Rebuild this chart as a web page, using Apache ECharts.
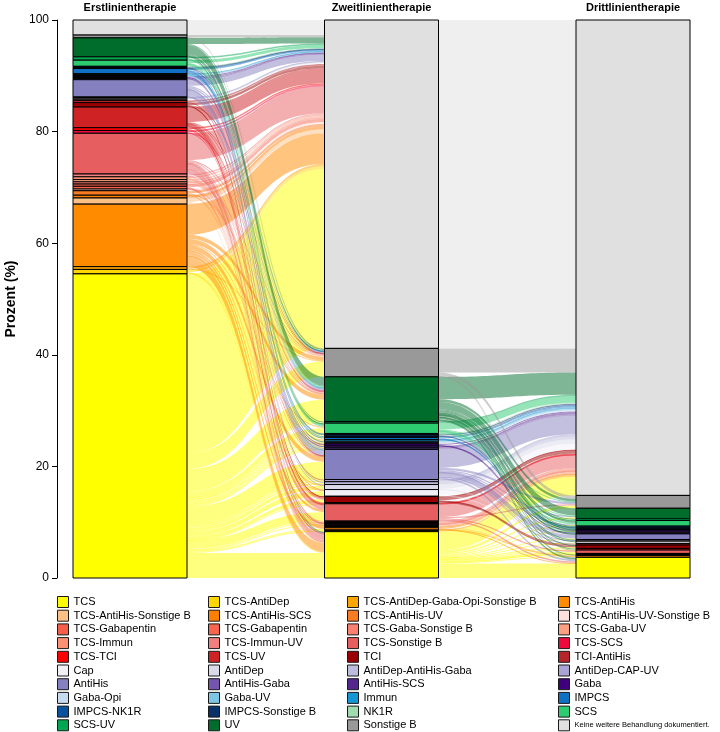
<!DOCTYPE html>
<html>
<head>
<meta charset="utf-8">
<script src="https://cdn.jsdelivr.net/npm/echarts@6/dist/echarts.min.js"></script>
<style>
  html, body { margin: 0; padding: 0; background: #fff; }
  #chart { width: 720px; height: 732px; }
</style>
</head>
<body>
<div id="chart"></div>
<script>
const NONE = 'Keine weitere Behandlung dokumentiert.';
const GABA2 = 'TCS-Gabapentin\u200b'; // second legend entry with the same label

// legend / stacking order (bottom of each column = first entry)
const categories = [
  'TCS', 'TCS-AntiDep', 'TCS-AntiDep-Gaba-Opi-Sonstige B', 'TCS-AntiHis',
  'TCS-AntiHis-Sonstige B', 'TCS-AntiHis-SCS', 'TCS-AntiHis-UV', 'TCS-AntiHis-UV-Sonstige B',
  'TCS-Gabapentin', GABA2, 'TCS-Gaba-Sonstige B', 'TCS-Gaba-UV',
  'TCS-Immun', 'TCS-Immun-UV', 'TCS-Sonstige B', 'TCS-SCS',
  'TCS-TCI', 'TCS-UV', 'TCI', 'TCI-AntiHis',
  'Cap', 'AntiDep', 'AntiDep-AntiHis-Gaba', 'AntiDep-CAP-UV',
  'AntiHis', 'AntiHis-Gaba', 'AntiHis-SCS', 'Gaba',
  'Gaba-Opi', 'Gaba-UV', 'Immun', 'IMPCS',
  'IMPCS-NK1R', 'IMPCS-Sonstige B', 'NK1R', 'SCS',
  'SCS-UV', 'UV', 'Sonstige B', NONE
];

const palette = [
  '#ffff00', '#ffd700', '#ffa500', '#ff8c00',
  '#fdc086', '#ff7f00', '#f97b22', '#fde0dd',
  '#f65e4a', '#f8654f', '#fa8072', '#fca082',
  '#fc9272', '#f08080', '#e75e60', '#ee0a3c',
  '#ff0000', '#cf2224', '#9b0000', '#b5252a',
  '#f2f0f7', '#dadaeb', '#bcbddc', '#a9a4d4',
  '#8580c0', '#7456b0', '#54278f', '#3f007d',
  '#c6dbef', '#7ec4e4', '#1696d2', '#1071c4',
  '#08519c', '#08306b', '#a1dcb0', '#2ecc71',
  '#00a651', '#006d2c', '#999999', '#e0e0e0'
];

const columnTitles = ['Erstlinientherapie', 'Zweitlinientherapie', 'Drittlinientherapie'];

// percent of patients moving from first-line to second-line therapy
const flowsFirstToSecond = [
  ['TCS', 'TCS', 4.5], ['TCS', 'TCS-AntiDep', 0.2], ['TCS', 'TCS-AntiHis', 0.2],
  ['TCS', 'TCS-Gabapentin', 0.15], ['TCS', 'TCS-Immun', 0.15], ['TCS', 'TCS-Sonstige B', 1.6],
  ['TCS', 'TCS-SCS', 0.05], ['TCS', 'TCI', 0.6], ['TCS', 'Cap', 0.9], ['TCS', 'AntiDep', 0.7],
  ['TCS', 'AntiDep-AntiHis-Gaba', 0.3], ['TCS', 'AntiDep-CAP-UV', 0.3], ['TCS', 'AntiHis', 3.2],
  ['TCS', 'AntiHis-Gaba', 0.15], ['TCS', 'AntiHis-SCS', 0.2], ['TCS', 'Gaba', 0.2],
  ['TCS', 'Gaba-Opi', 0.15], ['TCS', 'Gaba-UV', 0.15], ['TCS', 'Immun', 0.2], ['TCS', 'IMPCS', 0.2],
  ['TCS', 'IMPCS-NK1R', 0.1], ['TCS', 'IMPCS-Sonstige B', 0.2], ['TCS', 'NK1R', 0.1],
  ['TCS', 'SCS', 1.0], ['TCS', 'SCS-UV', 0.15], ['TCS', 'UV', 3.9], ['TCS', 'Sonstige B', 2.8],
  ['TCS', NONE, 32.15],
  ['TCS-AntiDep', 'TCS', 0.2], ['TCS-AntiDep', 'TCS-AntiDep-Gaba-Opi-Sonstige B', 0.1], ['TCS-AntiDep', NONE, 0.5],
  ['TCS-AntiDep-Gaba-Opi-Sonstige B', 'Sonstige B', 0.1], ['TCS-AntiDep-Gaba-Opi-Sonstige B', NONE, 0.4],
  ['TCS-AntiHis', 'TCS', 1.6], ['TCS-AntiHis', 'TCS-AntiHis', 0.2], ['TCS-AntiHis', 'TCS-AntiHis-Sonstige B', 0.15],
  ['TCS-AntiHis', 'TCS-AntiHis-SCS', 0.1], ['TCS-AntiHis', 'TCS-AntiHis-UV', 0.15], ['TCS-AntiHis', 'TCS-Sonstige B', 0.5],
  ['TCS-AntiHis', 'Cap', 0.2], ['TCS-AntiHis', 'AntiDep', 0.1], ['TCS-AntiHis', 'AntiHis', 0.9],
  ['TCS-AntiHis', 'SCS', 0.2], ['TCS-AntiHis', 'UV', 0.9], ['TCS-AntiHis', 'Sonstige B', 0.7], ['TCS-AntiHis', NONE, 5.5],
  ['TCS-AntiHis-Sonstige B', 'TCS', 0.2], ['TCS-AntiHis-Sonstige B', 'Sonstige B', 0.2], ['TCS-AntiHis-Sonstige B', NONE, 0.7],
  ['TCS-AntiHis-SCS', NONE, 0.5],
  ['TCS-AntiHis-UV', 'TCS-AntiHis-UV-Sonstige B', 0.1], ['TCS-AntiHis-UV', 'UV', 0.2], ['TCS-AntiHis-UV', NONE, 0.5],
  ['TCS-AntiHis-UV-Sonstige B', NONE, 0.3],
  ['TCS-Gabapentin', 'TCS', 0.1], ['TCS-Gabapentin', 'TCS-Gaba-Sonstige B', 0.1], ['TCS-Gabapentin', 'Gaba', 0.1],
  ['TCS-Gabapentin', NONE, 0.2],
  [GABA2, NONE, 0.4],
  ['TCS-Gaba-Sonstige B', 'Sonstige B', 0.1], ['TCS-Gaba-Sonstige B', NONE, 0.3],
  ['TCS-Gaba-UV', 'TCS', 0.1], ['TCS-Gaba-UV', 'UV', 0.1], ['TCS-Gaba-UV', NONE, 0.2],
  ['TCS-Immun', 'TCS', 0.1], ['TCS-Immun', 'TCS-Immun-UV', 0.1], ['TCS-Immun', 'Immun', 0.1], ['TCS-Immun', NONE, 0.2],
  ['TCS-Immun-UV', 'TCS', 0.1], ['TCS-Immun-UV', 'UV', 0.1], ['TCS-Immun-UV', NONE, 0.3],
  ['TCS-Sonstige B', 'TCS', 0.9], ['TCS-Sonstige B', GABA2, 0.1], ['TCS-Sonstige B', 'TCS-Sonstige B', 0.8],
  ['TCS-Sonstige B', 'TCI', 0.1], ['TCS-Sonstige B', 'Cap', 0.1], ['TCS-Sonstige B', 'AntiHis', 0.1],
  ['TCS-Sonstige B', 'UV', 0.2], ['TCS-Sonstige B', 'Sonstige B', 0.2], ['TCS-Sonstige B', NONE, 4.8],
  ['TCS-SCS', 'TCS-Sonstige B', 0.1], ['TCS-SCS', 'UV', 0.1], ['TCS-SCS', NONE, 0.3],
  ['TCS-TCI', 'TCS-TCI', 0.05], ['TCS-TCI', 'TCI', 0.2], ['TCS-TCI', NONE, 0.25],
  ['TCS-UV', 'TCS', 0.3], ['TCS-UV', 'TCS-Gaba-UV', 0.1], ['TCS-UV', 'TCS-Sonstige B', 0.1], ['TCS-UV', 'TCS-UV', 0.1],
  ['TCS-UV', 'AntiDep-CAP-UV', 0.1], ['TCS-UV', 'AntiHis', 0.1], ['TCS-UV', 'UV', 0.1], ['TCS-UV', 'Sonstige B', 0.1],
  ['TCS-UV', NONE, 2.7],
  ['TCI', 'TCI', 0.2], ['TCI', 'TCI-AntiHis', 0.05], ['TCI', 'Sonstige B', 0.1], ['TCI', NONE, 0.45],
  ['TCI-AntiHis', 'AntiHis', 0.1], ['TCI-AntiHis', NONE, 0.3],
  ['Cap', NONE, 0.2],
  ['AntiDep', NONE, 0.2],
  ['AntiDep-AntiHis-Gaba', NONE, 0.1],
  ['AntiDep-CAP-UV', 'UV', 0.05], ['AntiDep-CAP-UV', NONE, 0.05],
  ['AntiHis', 'TCS', 0.1], ['AntiHis', 'AntiDep', 0.1], ['AntiHis', 'AntiDep-AntiHis-Gaba', 0.2], ['AntiHis', 'AntiHis', 0.9],
  ['AntiHis', 'AntiHis-Gaba', 0.1], ['AntiHis', 'AntiHis-SCS', 0.1], ['AntiHis', 'UV', 0.3], ['AntiHis', 'Sonstige B', 0.2],
  ['AntiHis', NONE, 1.1],
  ['AntiHis-Gaba', NONE, 0.2],
  ['AntiHis-SCS', 'AntiHis-SCS', 0.05], ['AntiHis-SCS', NONE, 0.15],
  ['Gaba', 'Gaba', 0.1], ['Gaba', NONE, 0.1],
  ['Gaba-Opi', 'Gaba-Opi', 0.05], ['Gaba-Opi', NONE, 0.1],
  ['Gaba-UV', 'UV', 0.05], ['Gaba-UV', 'Sonstige B', 0.05], ['Gaba-UV', NONE, 0.05],
  ['Immun', 'UV', 0.1], ['Immun', NONE, 0.1],
  ['IMPCS', 'AntiHis', 0.1], ['IMPCS', 'IMPCS', 0.2], ['IMPCS', 'IMPCS-NK1R', 0.1], ['IMPCS', 'IMPCS-Sonstige B', 0.15],
  ['IMPCS', 'Sonstige B', 0.1], ['IMPCS', NONE, 0.25],
  ['IMPCS-NK1R', 'NK1R', 0.05], ['IMPCS-NK1R', NONE, 0.1],
  ['IMPCS-Sonstige B', 'Sonstige B', 0.05], ['IMPCS-Sonstige B', NONE, 0.1],
  ['NK1R', NONE, 0.1],
  ['SCS', 'SCS', 0.4], ['SCS', 'UV', 0.1], ['SCS', 'Sonstige B', 0.1], ['SCS', NONE, 0.5],
  ['SCS-UV', 'SCS', 0.1], ['SCS-UV', 'UV', 0.2], ['SCS-UV', NONE, 0.3],
  ['UV', 'TCS', 0.1], ['UV', 'Gaba-UV', 0.1], ['UV', 'SCS', 0.15], ['UV', 'SCS-UV', 0.15], ['UV', 'UV', 1.6],
  ['UV', 'Sonstige B', 0.2], ['UV', NONE, 1.1],
  ['Sonstige B', 'Sonstige B', 0.1], ['Sonstige B', NONE, 0.4],
  [NONE, NONE, 2.7]
];

// percent of patients moving from second-line to third-line therapy
const flowsSecondToThird = [
  ['TCS', 'TCS', 2.6], ['TCS', 'TCS-AntiHis', 0.2], ['TCS', 'TCS-Gabapentin', 0.1], ['TCS', 'TCS-Immun', 0.1],
  ['TCS', 'TCS-Sonstige B', 0.3], ['TCS', 'TCS-UV', 0.1], ['TCS', 'TCI', 0.2], ['TCS', 'Cap', 0.1],
  ['TCS', 'AntiHis', 0.2], ['TCS', 'Gaba', 0.1], ['TCS', 'SCS', 0.2], ['TCS', 'UV', 0.3],
  ['TCS', 'Sonstige B', 0.5], ['TCS', NONE, 3.3],
  ['TCS-AntiDep', NONE, 0.2],
  ['TCS-AntiDep-Gaba-Opi-Sonstige B', NONE, 0.1],
  ['TCS-AntiHis', 'TCS', 0.1], ['TCS-AntiHis', 'TCS-AntiHis', 0.1], ['TCS-AntiHis', NONE, 0.2],
  ['TCS-AntiHis-Sonstige B', 'TCS-AntiHis-Sonstige B', 0.1], ['TCS-AntiHis-Sonstige B', NONE, 0.05],
  ['TCS-AntiHis-SCS', NONE, 0.1],
  ['TCS-AntiHis-UV', NONE, 0.15],
  ['TCS-AntiHis-UV-Sonstige B', NONE, 0.1],
  ['TCS-Gabapentin', NONE, 0.15],
  [GABA2, NONE, 0.1],
  ['TCS-Gaba-Sonstige B', NONE, 0.1],
  ['TCS-Gaba-UV', NONE, 0.1],
  ['TCS-Immun', NONE, 0.15],
  ['TCS-Immun-UV', NONE, 0.1],
  ['TCS-Sonstige B', 'TCS', 0.3], ['TCS-Sonstige B', 'TCS-Sonstige B', 0.2], ['TCS-Sonstige B', 'Sonstige B', 0.2],
  ['TCS-Sonstige B', NONE, 2.4],
  ['TCS-SCS', NONE, 0.05],
  ['TCS-TCI', NONE, 0.05],
  ['TCS-UV', NONE, 0.1],
  ['TCI', 'TCI', 0.3], ['TCI', 'TCI-AntiHis', 0.1], ['TCI', NONE, 0.7],
  ['TCI-AntiHis', NONE, 0.05],
  ['Cap', 'Cap', 0.2], ['Cap', NONE, 1.0],
  ['AntiDep', 'AntiDep', 0.1], ['AntiDep', NONE, 0.8],
  ['AntiDep-AntiHis-Gaba', NONE, 0.5],
  ['AntiDep-CAP-UV', NONE, 0.4],
  ['AntiHis', 'TCS', 0.3], ['AntiHis', 'TCI-AntiHis', 0.2], ['AntiHis', 'AntiDep', 0.1], ['AntiHis', 'AntiHis', 0.6],
  ['AntiHis', 'AntiHis-Gaba', 0.1], ['AntiHis', 'AntiHis-SCS', 0.1], ['AntiHis', 'SCS', 0.1], ['AntiHis', 'UV', 0.2],
  ['AntiHis', 'Sonstige B', 0.4], ['AntiHis', NONE, 3.3],
  ['AntiHis-Gaba', NONE, 0.25],
  ['AntiHis-SCS', NONE, 0.35],
  ['Gaba', 'AntiHis-Gaba', 0.1], ['Gaba', 'Gaba', 0.1], ['Gaba', NONE, 0.2],
  ['Gaba-Opi', NONE, 0.2],
  ['Gaba-UV', NONE, 0.25],
  ['Immun', NONE, 0.3],
  ['IMPCS', 'IMPCS', 0.1], ['IMPCS', 'IMPCS-Sonstige B', 0.1], ['IMPCS', NONE, 0.2],
  ['IMPCS-NK1R', NONE, 0.2],
  ['IMPCS-Sonstige B', 'IMPCS-Sonstige B', 0.1], ['IMPCS-Sonstige B', NONE, 0.25],
  ['NK1R', NONE, 0.15],
  ['SCS', 'AntiHis-SCS', 0.1], ['SCS', 'SCS', 0.3], ['SCS', 'SCS-UV', 0.1], ['SCS', 'UV', 0.1],
  ['SCS', 'Sonstige B', 0.1], ['SCS', NONE, 1.15],
  ['SCS-UV', NONE, 0.3],
  ['UV', 'TCS', 0.3], ['UV', 'TCS-AntiHis-UV', 0.1], ['UV', 'TCS-UV', 0.2], ['UV', 'TCI', 0.1], ['UV', 'Cap', 0.1],
  ['UV', 'AntiDep-CAP-UV', 0.1], ['UV', 'AntiHis', 0.2], ['UV', 'AntiHis-SCS', 0.1], ['UV', 'Gaba', 0.1],
  ['UV', 'Gaba-UV', 0.1], ['UV', 'IMPCS', 0.1], ['UV', 'IMPCS-Sonstige B', 0.1], ['UV', 'SCS', 0.4],
  ['UV', 'SCS-UV', 0.2], ['UV', 'UV', 1.3], ['UV', 'Sonstige B', 0.5], ['UV', NONE, 4.0],
  ['Sonstige B', 'TCS', 0.1], ['Sonstige B', 'TCS-Sonstige B', 0.1], ['Sonstige B', 'Sonstige B', 0.6],
  ['Sonstige B', NONE, 4.3],
  [NONE, NONE, 58.85]
];

const legendLefts = [57, 208, 347, 558];
const titleCenters = [130, 381.5, 633];
const FONT = '"Liberation Sans", Arial, sans-serif';

const nodeId = (name, col) => name + '|' + col;

const links = [];
flowsFirstToSecond.forEach(([s, t, v]) => links.push({ source: nodeId(s, 1), target: nodeId(t, 2), value: v }));
flowsSecondToThird.forEach(([s, t, v]) => links.push({ source: nodeId(s, 2), target: nodeId(t, 3), value: v }));

const used = new Set();
links.forEach(l => { used.add(l.source); used.add(l.target); });

// nodes listed top to bottom, so reverse the stacking order
const nodes = [];
[1, 2, 3].forEach(col => {
  for (let i = categories.length - 1; i >= 0; i--) {
    const id = nodeId(categories[i], col);
    if (used.has(id)) {
      nodes.push({ name: id, depth: col - 1, itemStyle: { color: palette[i] } });
    }
  }
});

const legendSeries = categories.map((name, i) => ({
  type: 'scatter', name: name, data: [], itemStyle: { color: palette[i], opacity: 1 }
}));

const chart = echarts.init(document.getElementById('chart'), null, { renderer: 'canvas' });

chart.setOption({
  animation: false,
  textStyle: { fontFamily: FONT },
  grid: { left: 57, right: 14, top: 20, bottom: 154, outerBoundsMode: 'none' },
  xAxis: { type: 'value', min: 0, max: 1, show: false },
  yAxis: {
    type: 'value', min: 0, max: 100, interval: 20,
    name: 'Prozent (%)', nameLocation: 'middle', nameGap: 37,
    nameTextStyle: { fontWeight: 'bold', fontSize: 14, color: '#000', fontFamily: FONT },
    axisLine: { show: true, lineStyle: { color: '#000', width: 1 } },
    axisTick: { show: true, length: 5, lineStyle: { color: '#000' } },
    axisLabel: { color: '#000', fontSize: 12, margin: 8, fontFamily: FONT },
    splitLine: { show: false }
  },
  legend: legendLefts.map((left, c) => ({
    orient: 'vertical', left: left, top: 596, height: 160, padding: 0,
    itemWidth: 11, itemHeight: 11, itemGap: 1.7, icon: 'rect',
    selectedMode: false,
    itemStyle: { borderColor: '#1a1a1a', borderWidth: 1, opacity: 1 },
    textStyle: {
      fontSize: 11, lineHeight: 11, color: '#000', fontFamily: FONT,
      rich: { small: { fontSize: 7.5, lineHeight: 11, color: '#000', fontFamily: FONT } }
    },
    formatter: name => (name === NONE ? '{small|' + name + '}' : name),
    data: categories.filter((_, i) => i % 4 === c)
  })),
  graphic: columnTitles.map((t, i) => ({
    type: 'text', x: titleCenters[i], y: 8,
    style: { text: t, align: 'center', verticalAlign: 'middle', font: 'bold 11px ' + FONT, fill: '#000' }
  })),
  series: [
    {
      type: 'sankey',
      left: 73, top: 20, width: 617, height: 558,
      nodeWidth: 114, nodeGap: 0, layoutIterations: 0,
      draggable: false, silent: true,
      label: { show: false },
      itemStyle: { borderColor: '#000', borderWidth: 1 },
      lineStyle: { color: 'source', opacity: 0.5, curveness: 0.5 },
      emphasis: { disabled: true },
      data: nodes,
      links: links
    }
  ].concat(legendSeries)
});
</script>
</body>
</html>
